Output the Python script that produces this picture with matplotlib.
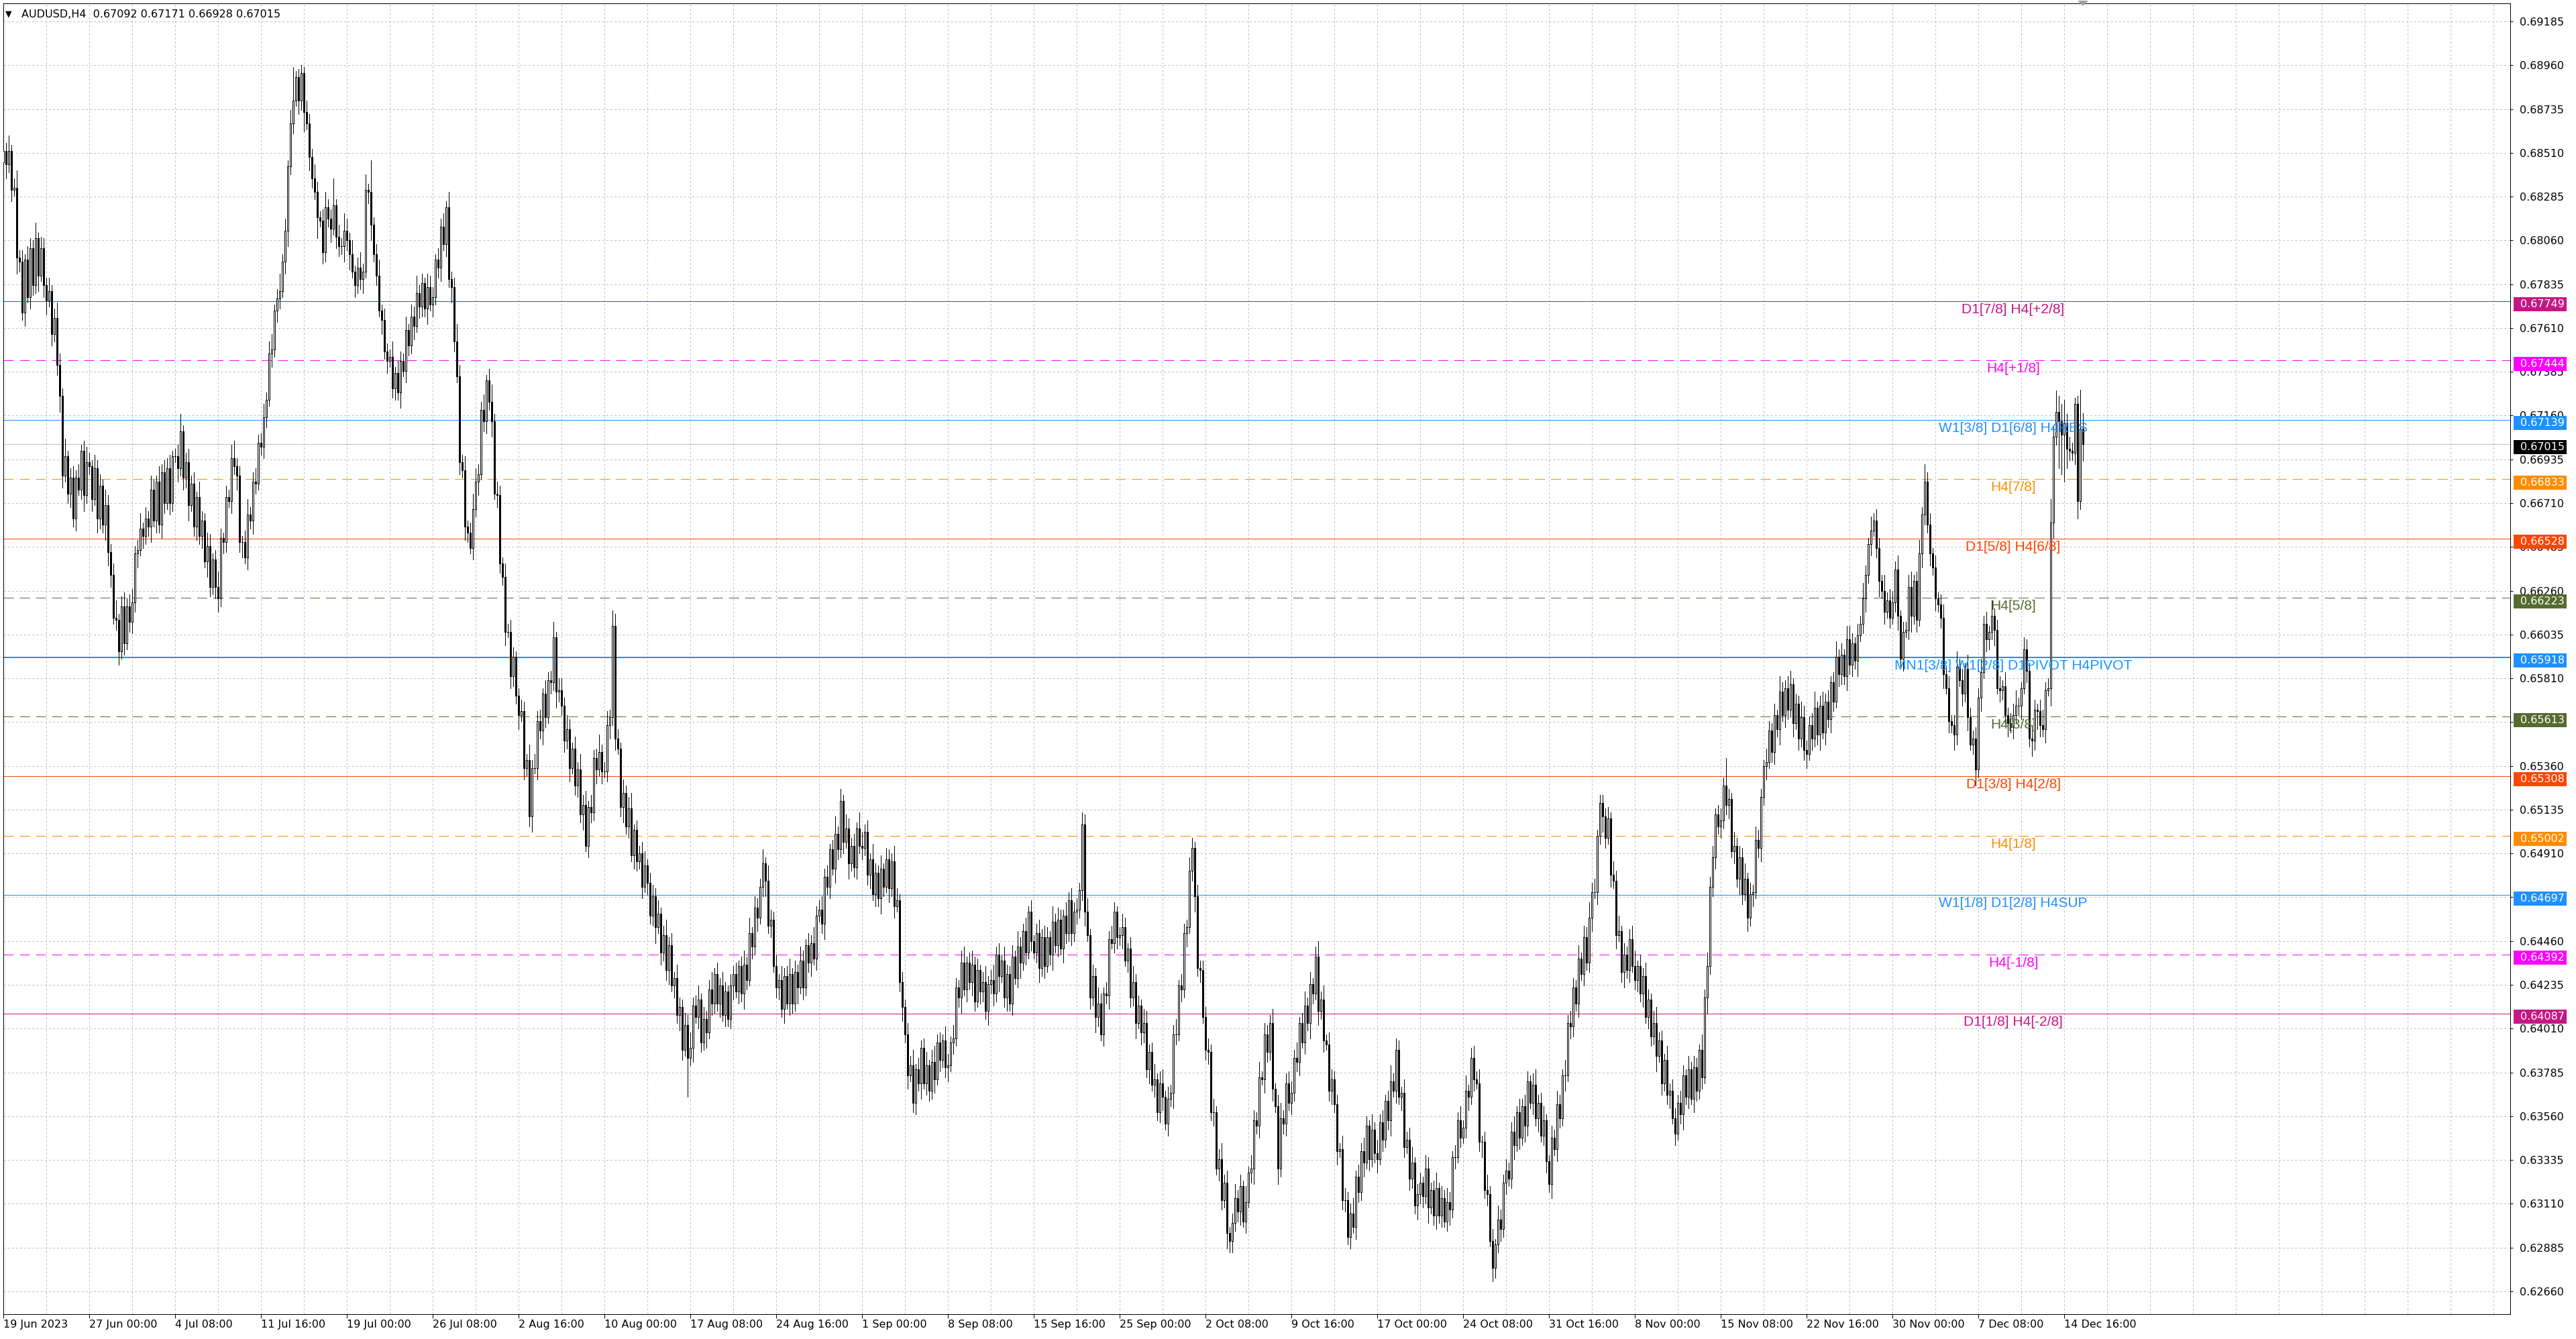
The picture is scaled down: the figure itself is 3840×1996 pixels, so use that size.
import matplotlib
matplotlib.use("Agg")
import matplotlib.pyplot as plt
import matplotlib.transforms as mtransforms
from matplotlib.patches import Rectangle, Polygon
import numpy as np

plt.rcParams['lines.scale_dashes'] = False
plt.rcParams['font.family'] = ['DejaVu Sans']

title_text = "AUDUSD,H4  0.67092 0.67171 0.66928 0.67015"

# closes in pips above 0.60000 (one value per H4 bar)
closes_pips = [
    852, 845, 852, 832, 833, 797, 795, 769, 796, 777, 802, 783, 807, 788, 802, 783,
    775, 780, 758, 766, 742, 726, 685, 695, 676, 684, 663, 684, 678, 698, 675, 692,
    690, 673, 689, 663, 680, 660, 670, 646, 634, 612, 611, 595, 618, 599, 618, 610,
    620, 645, 647, 658, 654, 663, 659, 678, 662, 682, 660, 687, 671, 689, 671, 695,
    695, 689, 708, 684, 692, 670, 681, 659, 674, 654, 662, 641, 649, 628, 642, 628,
    622, 653, 651, 674, 672, 694, 690, 685, 651, 651, 643, 665, 662, 682, 681, 702,
    700, 715, 724, 748, 750, 770, 776, 780, 795, 811, 844, 866, 878, 890, 878, 892,
    872, 866, 849, 838, 831, 818, 816, 800, 823, 817, 812, 824, 808, 803, 803, 811,
    806, 799, 790, 783, 792, 786, 790, 832, 831, 814, 799, 788, 770, 765, 749, 744,
    746, 730, 738, 728, 744, 739, 760, 752, 767, 762, 779, 772, 784, 771, 782, 773,
    777, 796, 792, 813, 804, 823, 786, 782, 754, 736, 692, 688, 659, 656, 648, 668,
    682, 686, 719, 713, 734, 723, 713, 676, 675, 640, 633, 605, 605, 582, 592, 572,
    562, 564, 535, 539, 510, 535, 535, 559, 554, 573, 561, 580, 579, 602, 574, 575,
    567, 549, 555, 535, 545, 526, 534, 511, 516, 495, 515, 512, 540, 534, 543, 533,
    533, 557, 561, 608, 550, 545, 515, 522, 505, 514, 490, 503, 487, 491, 474, 485,
    476, 459, 469, 453, 460, 440, 449, 431, 444, 423, 427, 408, 412, 390, 403, 386,
    391, 413, 407, 416, 394, 406, 399, 421, 414, 429, 414, 423, 408, 420, 406, 423,
    429, 420, 433, 419, 434, 426, 450, 443, 463, 458, 474, 486, 477, 454, 457, 433,
    422, 426, 411, 428, 414, 429, 414, 430, 422, 436, 422, 444, 435, 445, 437, 459,
    462, 455, 479, 474, 493, 483, 501, 493, 518, 497, 504, 486, 495, 484, 504, 495,
    494, 502, 480, 488, 470, 481, 468, 483, 474, 488, 473, 487, 464, 467, 425, 412,
    398, 377, 382, 363, 380, 373, 391, 373, 382, 369, 384, 375, 394, 385, 395, 381,
    382, 394, 396, 422, 417, 435, 421, 435, 425, 434, 415, 431, 420, 425, 410, 424,
    426, 419, 439, 428, 436, 417, 429, 414, 438, 427, 443, 435, 451, 440, 461, 446,
    440, 450, 432, 448, 433, 448, 439, 456, 444, 457, 442, 459, 450, 467, 450, 461,
    462, 472, 506, 461, 449, 417, 428, 407, 414, 398, 419, 418, 447, 445, 461, 448,
    449, 453, 436, 442, 417, 425, 404, 413, 399, 404, 380, 389, 372, 375, 358, 373,
    366, 352, 365, 368, 398, 398, 423, 421, 450, 453, 482, 494, 469, 432, 431, 407,
    390, 389, 358, 358, 329, 334, 313, 322, 296, 292, 301, 314, 307, 320, 302, 312,
    327, 329, 354, 351, 376, 375, 398, 389, 404, 370, 361, 329, 355, 352, 373, 363,
    368, 386, 384, 404, 394, 413, 404, 424, 419, 438, 410, 416, 395, 393, 369, 375,
    362, 338, 339, 313, 313, 294, 306, 299, 325, 317, 338, 332, 351, 334, 349, 337,
    334, 353, 344, 364, 354, 374, 369, 390, 366, 368, 340, 344, 324, 332, 310, 316,
    322, 315, 329, 309, 318, 305, 319, 305, 314, 302, 312, 308, 335, 335, 354, 345,
    350, 369, 366, 386, 375, 373, 343, 343, 318, 316, 292, 278, 290, 303, 298, 322,
    328, 324, 348, 341, 358, 345, 361, 351, 374, 363, 372, 355, 363, 346, 354, 333,
    321, 345, 339, 362, 355, 377, 377, 404, 402, 422, 414, 437, 429, 448, 435, 458,
    471, 471, 500, 517, 510, 499, 509, 480, 477, 449, 451, 430, 439, 431, 447, 433,
    426, 433, 419, 428, 407, 416, 397, 404, 387, 395, 373, 385, 367, 369, 355, 347,
    363, 357, 377, 366, 380, 365, 381, 369, 390, 376, 417, 433, 474, 489, 511, 505,
    508, 526, 516, 519, 492, 495, 478, 489, 470, 478, 458, 470, 471, 498, 494, 520,
    536, 538, 554, 543, 562, 555, 574, 562, 576, 565, 578, 558, 568, 550, 561, 544,
    542, 557, 550, 566, 552, 567, 553, 569, 560, 579, 569, 592, 583, 593, 582, 601,
    588, 599, 590, 603, 609, 622, 634, 650, 657, 662, 648, 631, 626, 615, 621, 612,
    620, 637, 613, 591, 605, 606, 628, 613, 631, 611, 645, 665, 682, 660, 645, 638,
    622, 619, 612, 583, 576, 559, 557, 552, 587, 580, 573, 586, 561, 547, 550, 534,
    571, 584, 609, 601, 605, 613, 606, 576, 575, 577, 562, 558, 556, 562, 567, 567,
    576, 596, 585, 550, 549, 565, 564, 557, 555, 575, 576, 661, 705, 718, 713, 706,
    712, 699, 698, 697, 722, 672, 709.2, 701.5,
]
first_open_pips = 846

upper_wick_pips = [
    6,4,8,3,5,9,4,6,3,7,5,4,8,3,6,5, 4,7,3,5,8,6,4,9,3,5,6,4,7,3,5,8,
    5,3,7,4,6,3,8,5,4,6,9,3,5,7,4,6, 7,4,5,8,3,6,4,7,5,3,8,4,6,5,7,3,
    4,6,9,3,5,7,4,6,3,8,5,4,7,6,3,5, 8,5,3,6,4,7,9,4,5,3,6,8,4,5,7,4,
    5,7,4,6,8,3,5,9,4,6,3,7,17,3,4,4, 3,6,5,4,7,5,3,6,8,4,5,14,3,6,4,9,
    6,4,7,3,5,8,4,8,3,16,4,5,8,3,6,4, 4,8,3,6,5,4,7,3,6,5,9,4,5,3,7,6,
    5,3,6,4,7,3,8,4,5,9,6,4,7,3,5,8, 7,5,4,8,3,6,9,4,6,5,3,7,4,6,5,3,
    4,6,5,3,8,4,7,5,6,3,7,4,5,8,3,6, 6,4,7,5,3,6,4,8,5,7,3,6,4,5,9,4,
    5,7,4,8,6,5,3,7,4,6,8,3,5,4,6,7, 3,5,6,4,7,3,5,8,4,6,3,7,5,4,6,5,
    8,4,5,7,3,6,4,5,9,3,6,4,7,5,3,6, 4,6,3,5,7,4,8,3,6,5,4,7,3,8,5,4,
    6,3,7,4,5,8,3,6,4,7,5,3,6,4,8,5, 5,7,4,6,3,5,9,4,6,3,7,5,4,6,3,8,
    7,4,6,3,8,5,4,7,3,6,5,4,8,6,3,5, 4,6,5,8,3,6,4,5,7,3,6,8,4,5,3,7,
    6,3,7,5,4,6,8,3,5,7,4,6,3,5,8,4, 5,8,4,6,3,7,5,4,6,3,8,5,4,7,3,6,
    3,5,7,4,6,5,3,8,4,6,5,3,7,4,6,5, 6,4,6,5,7,3,6,4,8,5,3,6,4,7,5,3,
    4,7,5,3,6,8,4,5,3,7,6,4,5,8,3,6, 7,3,6,4,5,8,3,6,5,4,7,5,3,6,4,5,
    5,6,4,7,3,5,8,4,6,3,5,7,4,6,3,8, 3,7,5,4,8,3,6,5,4,7,3,6,8,4,5,6,
    6,4,8,3,5,7,4,6,3,5,8,4,7,3,6,5, 4,5,3,7,6,4,5,8,3,6,4,7,5,3,8,4,
    7,4,6,3,5,8,4,6,5,3,7,4,6,8,3,5, 5,3,7,6,4,5,8,3,6,4,7,5,3,6,4,7,
    4,8,3,5,6,4,7,3,5,8,4,6,3,7,5,4, 6,4,5,8,3,7,4,6,5,3,6,8,4,5,7,3,
    3,6,4,7,5,3,8,4,6,5,4,7,3,6,5,8, 5,7,3,4,4,4,6,3,7,5,8,3,6,4,5,7,
    8,3,6,4,7,5,3,6,8,4,5,3,7,4,6,5, 4,6,5,3,7,4,6,5,3,8,4,7,5,6,3,5,
    6,4,14,5,3,7,4,6,5,8,3,6,4,7,5,4, 3,7,5,4,6,3,8,5,4,6,7,3,5,4,8,6,
    5,4,6,8,3,5,7,4,6,3,5,8,4,6,3,7, 7,5,3,6,4,8,5,3,7,4,6,5,3,8,4,6,
    6,4,7,3,5,4,6,8,3,5,7,4,9,5,6,3, 6,3,5,7,4,6,3,5,8,4,6,3,7,5,4,6,
    5,7,4,6,3,8,4,5,6,3,7,4,5,6,8,4, 3,6,5,4,7,5,3,6,8,4,5,12,6,11,8,9,
    12,5,6,4,3,4,20,7.9,
]
lower_wick_pips = [
    5,7,4,6,3,8,5,4,7,3,6,5,4,8,3,6, 7,3,6,4,5,8,6,3,5,7,4,6,3,5,8,4,
    4,6,3,7,5,4,8,7,6,3,5,7,4,6,3,5, 6,5,7,3,6,4,5,8,3,6,4,7,5,3,6,4,
    3,7,4,6,5,8,3,5,7,4,6,3,8,5,4,6, 7,4,6,5,3,6,4,7,5,8,3,6,4,7,5,3,
    4,6,5,3,7,4,6,5,3,6,8,4,5,3,7,5, 10,3,7,5,4,11,3,6,5,4,7,3,6,5,4,8,
    5,8,3,6,4,5,7,3,6,8,4,5,3,7,4,6, 3,5,6,4,8,3,6,5,4,7,3,6,5,4,8,3,
    6,4,5,7,3,6,4,8,5,3,6,4,7,5,3,6, 4,7,3,5,6,4,8,3,6,5,4,7,3,6,5,4,
    7,3,6,4,5,8,3,6,4,7,5,3,6,4,8,5, 5,6,4,7,3,5,6,4,8,3,6,5,4,7,3,6,
    3,5,7,4,6,3,5,8,4,6,3,7,5,4,6,3, 6,4,5,8,3,6,4,5,7,3,6,4,8,5,3,20,
    4,7,3,6,5,4,8,3,6,5,4,7,3,6,4,5, 7,3,6,4,8,5,3,6,4,7,3,5,8,4,6,3,
    5,6,4,7,3,6,5,4,8,3,6,4,5,7,3,6, 3,5,8,4,6,3,7,5,4,6,3,8,4,5,6,4,
    6,4,5,7,3,6,4,8,5,3,7,4,6,3,5,7, 4,7,3,5,6,4,8,3,6,5,4,7,3,6,4,5,
    7,3,6,4,5,8,3,6,4,7,5,3,6,5,4,7, 5,6,4,8,3,5,7,4,6,3,5,8,4,6,3,5,
    3,5,7,4,6,3,5,8,4,6,3,7,5,4,6,4, 6,4,5,7,3,6,4,8,5,3,6,4,7,3,5,6,
    4,7,3,6,5,4,8,3,6,5,4,7,3,6,4,5, 7,3,6,4,8,5,3,6,4,7,3,5,8,4,6,3,
    5,6,4,7,3,6,5,4,8,6,6,4,5,7,3,6, 3,5,8,4,6,3,7,5,4,6,3,8,4,5,6,4,
    6,4,5,7,3,6,4,8,5,3,7,4,6,3,5,7, 4,7,3,5,6,4,6,3,6,5,4,7,3,6,4,5,
    7,3,6,4,5,8,3,6,4,7,5,3,6,5,4,7, 5,6,4,8,3,5,7,4,6,3,5,8,4,6,3,5,
    3,5,7,4,6,3,5,8,4,6,3,7,5,4,6,4, 6,4,5,7,3,6,4,8,5,3,6,4,7,3,5,6,
    4,7,3,6,5,4,8,3,6,5,4,7,3,6,4,5, 7,3,6,4,8,5,3,6,4,7,3,5,8,4,6,3,
    5,6,4,7,3,6,5,4,8,3,6,4,5,7,3,6, 3,5,8,4,6,3,7,5,4,6,3,8,4,5,6,4,
    6,4,5,7,3,6,4,8,5,3,7,4,6,3,5,7, 4,7,3,5,6,4,8,3,6,5,4,7,3,6,4,5,
    7,3,6,4,5,8,3,6,4,7,5,3,6,5,4,7, 5,6,4,8,3,5,7,4,6,3,5,8,4,6,3,5,
    3,5,7,4,6,3,5,8,4,6,3,7,5,4,6,4, 6,4,5,7,3,6,4,8,5,3,6,4,7,3,5,8,
    4,7,3,6,5,4,8,3,6,5,4,7,3,6,4,5, 7,3,6,4,8,5,9,6,4,7,3,9,8,4,24,20,
    24,10,5,4,6,9,4,8.7,
]

level_prices = [0.67749, 0.67444, 0.67139, 0.66833, 0.66528, 0.66223, 0.65918,
                0.65613, 0.65308, 0.65002, 0.64697, 0.64392, 0.64087]
level_names = ["D1[7/8] H4[+2/8]", "H4[+1/8]", "W1[3/8] D1[6/8] H4RES", "H4[7/8]",
               "D1[5/8] H4[6/8]", "H4[5/8]", "MN1[3/8] W1[2/8] D1PIVOT H4PIVOT",
               "H4[3/8]", "D1[3/8] H4[2/8]", "H4[1/8]", "W1[1/8] D1[2/8] H4SUP",
               "H4[-1/8]", "D1[1/8] H4[-2/8]"]
level_colors = ["#C71585", "#FF00FF", "#1E90FF", "#FF8C00", "#FF4500", "#556B2F",
                "#1E90FF", "#556B2F", "#FF4500", "#FF8C00", "#1E90FF", "#FF00FF",
                "#C71585"]
level_dashed = [False, True, False, True, False, True, False, True, False, True,
                False, True, False]
level_widths = [1, 1, 1, 1, 1, 1, 2, 1, 1, 1, 1, 1, 1]
current_price = 0.67015

price_ticks = [0.69185, 0.68960, 0.68735, 0.68510, 0.68285, 0.68060, 0.67835,
               0.67610, 0.67385, 0.67160, 0.66935, 0.66710, 0.66485, 0.66260,
               0.66035, 0.65810, 0.65585, 0.65360, 0.65135, 0.64910, 0.64685,
               0.64460, 0.64235, 0.64010, 0.63785, 0.63560, 0.63335, 0.63110,
               0.62885, 0.62660]
date_labels = ["19 Jun 2023", "27 Jun 00:00", "4 Jul 08:00", "11 Jul 16:00",
               "19 Jul 00:00", "26 Jul 08:00", "2 Aug 16:00", "10 Aug 00:00",
               "17 Aug 08:00", "24 Aug 16:00", "1 Sep 00:00", "8 Sep 08:00",
               "15 Sep 16:00", "25 Sep 00:00", "2 Oct 08:00", "9 Oct 16:00",
               "17 Oct 00:00", "24 Oct 08:00", "31 Oct 16:00", "8 Nov 00:00",
               "15 Nov 08:00", "22 Nov 16:00", "30 Nov 00:00", "7 Dec 08:00",
               "14 Dec 16:00"]
date_label_bars = [0, 32, 64, 96, 128, 160, 192, 224, 256, 288, 320, 352, 384,
                   416, 448, 480, 512, 544, 576, 608, 640, 672, 704, 736, 768]

# ---------------------------------------------------------------------------
W, H = 3840, 1996
DPI = 100
PX = 72.0 / DPI  # points per pixel
PX_PER_PRICE = 29011.0

closes = np.array(closes_pips, dtype=float) / 10000 + 0.6
opens = np.concatenate([[first_open_pips / 10000 + 0.6], closes[:-1]])
highs = np.maximum(opens, closes) + np.array(upper_wick_pips, dtype=float) / 10000
lows = np.minimum(opens, closes) - np.array(lower_wick_pips, dtype=float) / 10000
n = len(closes)
xb = np.arange(n)

fig = plt.figure(figsize=(W / DPI, H / DPI), dpi=DPI, facecolor='white')
ax_l, ax_r, ax_t, ax_b = 5, 3742, 5, 1959
ax = fig.add_axes([ax_l / W, 1 - ax_b / H, (ax_r - ax_l) / W, (ax_b - ax_t) / H])
ax.set_facecolor('white')

ax.set_xlim(-0.1, 934.25)
ax.set_ylim(0.625427, 0.692781)

# grid
for t in price_ticks:
    ax.axhline(t, color='#C0C0C0', linestyle=(0, (2.2, 2.2)), linewidth=PX, zorder=1)
for gx in range(16, 935, 16):
    ax.axvline(gx, color='#C0C0C0', linestyle=(0, (2.2, 2.2)), linewidth=PX, zorder=1)

# level lines
for p, col, dsh, lw in zip(level_prices, level_colors, level_dashed, level_widths):
    ls = (0, (10.8, 6.5)) if dsh else '-'
    ax.axhline(p, color=col, linestyle=ls, linewidth=lw * PX, zorder=2)
ax.axhline(current_price, color='#C0C0C0', linewidth=PX, zorder=2)

# candles
ax.vlines(xb, lows, highs, color='black', linewidth=PX, zorder=3, antialiased=False)
up = closes >= opens
bottoms = np.minimum(opens, closes)
heights = np.abs(closes - opens)
ax.bar(xb[up], heights[up], bottom=bottoms[up], width=0.55, facecolor='white',
       edgecolor='black', linewidth=PX, zorder=4, antialiased=False)
ax.bar(xb[~up], heights[~up], bottom=bottoms[~up], width=0.55, facecolor='black',
       edgecolor='black', linewidth=PX, zorder=4, antialiased=False)

# level labels
for p, name, col in zip(level_prices, level_names, level_colors):
    ax.annotate(name, xy=(749, p), xytext=(0, -3 * PX), textcoords='offset points',
                ha='center', va='top', color=col, fontsize=15.1,
                family=['Liberation Sans', 'DejaVu Sans'], zorder=6)

# axes style
for s in ax.spines.values():
    s.set_color('black')
    s.set_linewidth(PX)
ax.yaxis.tick_right()
ax.set_yticks(price_ticks)
ax.set_yticklabels([f"{t:.5f}" for t in price_ticks])
ax.tick_params(axis='y', direction='out', length=3, width=PX, pad=7,
               labelsize=11.5, colors='black')
ax.set_xticks(date_label_bars)
ax.set_xticklabels(date_labels, ha='left')
ax.tick_params(axis='x', direction='out', length=4, width=PX, pad=2,
               labelsize=11.5, colors='black')

# price boxes on the right scale (sit ~5 px below their line)
trans = mtransforms.blended_transform_factory(fig.transFigure, ax.transData)
box_h = 21 / PX_PER_PRICE
box_shift = 5 / PX_PER_PRICE
for p, col in list(zip(level_prices, level_colors)) + [(current_price, 'black')]:
    yc = p - box_shift
    ax.add_patch(Rectangle((3747 / W, yc - box_h / 2), 79 / W, box_h, transform=trans,
                           facecolor=col, edgecolor='none', clip_on=False, zorder=10))
    ax.text(3757 / W, yc, f"{p:.5f}", transform=trans, color='white', va='center',
            ha='left', fontsize=11.5, zorder=11, clip_on=False)

# title
fig.text(8 / W, 1 - 21 / H, "\u25BC", fontsize=9, va='center', ha='left', color='black')
fig.text(32 / W, 1 - 22 / H, title_text, fontsize=11.5, va='center', ha='left',
         color='black')

# chart shift marker
fig.add_artist(Polygon([[3097 / W, 1 - 1 / H], [3113 / W, 1 - 1 / H], [3105 / W, 1 - 9 / H]],
                       closed=True, transform=fig.transFigure, facecolor='#A0A0A0',
                       edgecolor='none'))

fig.savefig("out.png", dpi=DPI, facecolor='white')
